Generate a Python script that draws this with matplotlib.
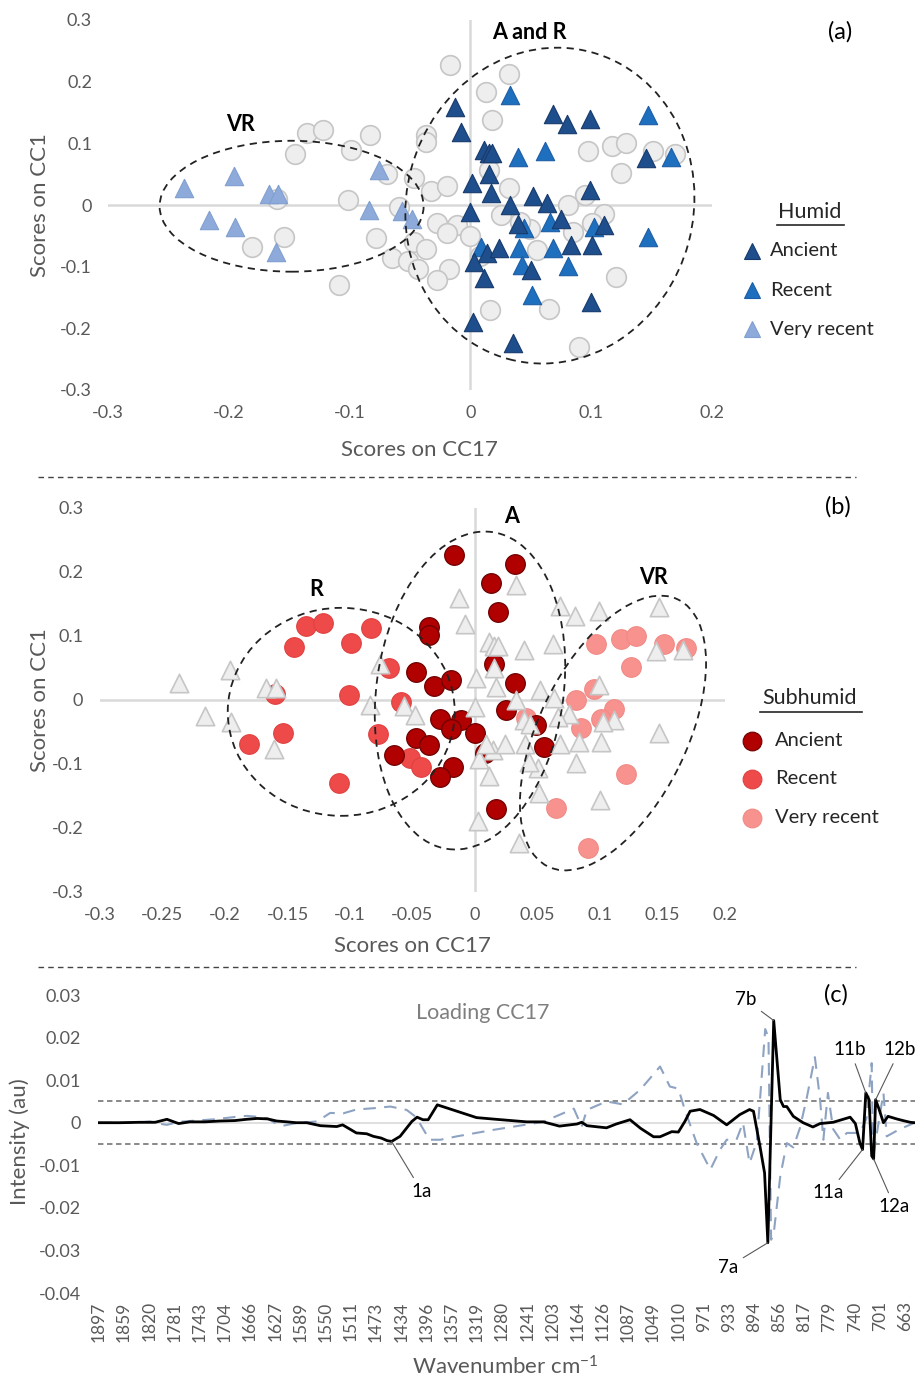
import matplotlib
matplotlib.use("Agg")
import matplotlib.pyplot as plt
from matplotlib.patches import Ellipse
from matplotlib.transforms import Affine2D
from matplotlib.lines import Line2D

plt.rcParams['font.family'] = ['Lato', 'DejaVu Sans']
plt.rcParams['axes.unicode_minus'] = False
plt.rcParams['mathtext.default'] = 'regular'

# ---- scores (CC17, CC1) ----
humid_anc_x = [-0.013, -0.008, 0.068, 0.080, 0.099, 0.011, 0.015, 0.018, 0.145, 0.015,
               0.001, 0.017, 0.099, 0.000, 0.033, 0.052, 0.063, 0.075, 0.039, 0.111,
               0.014, 0.024, 0.083, 0.101, 0.003, 0.050, 0.011, 0.100, 0.002, 0.035]
humid_anc_y = [0.159, 0.118, 0.147, 0.131, 0.139, 0.090, 0.084, 0.085, 0.077, 0.050,
               0.035, 0.020, 0.024, -0.011, 0.000, 0.015, 0.003, -0.022, -0.031, -0.032,
               -0.078, -0.069, -0.065, -0.065, -0.092, -0.106, -0.119, -0.157, -0.189, -0.223]
humid_rec_x = [0.033, 0.147, 0.039, 0.062, 0.166, 0.044, 0.066, 0.102, 0.009, 0.040,
               0.068, 0.147, 0.043, 0.081, 0.051]
humid_rec_y = [0.179, 0.146, 0.078, 0.088, 0.078, -0.038, -0.027, -0.035, -0.068, -0.069,
               -0.069, -0.052, -0.097, -0.099, -0.146]
humid_vr_x = [-0.237, -0.196, -0.167, -0.159, -0.216, -0.195, -0.161, -0.076, -0.084, -0.057, -0.048]
humid_vr_y = [0.027, 0.047, 0.018, 0.018, -0.025, -0.035, -0.076, 0.056, -0.008, -0.009, -0.023]

sub_anc_x = [-0.017, 0.032, 0.013, 0.018, -0.037, -0.037, -0.047, -0.033, -0.019, 0.015,
             0.032, 0.025, -0.028, -0.011, -0.019, 0.000, 0.049, 0.055, -0.047, -0.037,
             -0.065, -0.018, -0.028, 0.008, 0.0165]
sub_anc_y = [0.227, 0.2125, 0.183, 0.138, 0.114, 0.102, 0.044, 0.022, 0.031, 0.057,
             0.027, -0.016, -0.029, -0.032, -0.046, -0.051, -0.039, -0.073, -0.060, -0.071,
             -0.086, -0.104, -0.121, -0.083, -0.171]
sub_rec_x = [-0.135, -0.122, -0.145, -0.099, -0.083, -0.069, -0.160, -0.101, -0.059, -0.154,
             -0.181, -0.078, -0.109, -0.052, -0.043]
sub_rec_y = [0.116, 0.121, 0.083, 0.089, 0.113, 0.050, 0.010, 0.008, -0.003, -0.052,
             -0.068, -0.053, -0.129, -0.091, -0.104]
sub_vr_x = [0.097, 0.117, 0.129, 0.151, 0.169, 0.125, 0.095, 0.081, 0.111, 0.101,
            0.041, 0.085, 0.1205, 0.065, 0.090]
sub_vr_y = [0.0875, 0.096, 0.100, 0.087, 0.082, 0.052, 0.017, 0.000, -0.014, -0.029,
            -0.028, -0.044, -0.116, -0.168, -0.231]

score_ticks_a = [-0.3, -0.2, -0.1, 0, 0.1, 0.2]
score_ticks_b = [-0.3, -0.25, -0.2, -0.15, -0.1, -0.05, 0, 0.05, 0.1, 0.15, 0.2]
score_yticks = [-0.3, -0.2, -0.1, 0, 0.1, 0.2, 0.3]

# ---- loading CC17 ----
black_wn = [1897, 1865, 1834, 1811, 1793, 1775, 1758, 1735, 1712, 1689,
            1671, 1655, 1639, 1625, 1609, 1595, 1579, 1558, 1533, 1524,
            1503, 1487, 1477, 1465, 1456, 1449, 1436, 1418, 1410, 1401,
            1393, 1379, 1349, 1319, 1289, 1242, 1217, 1192, 1165, 1158,
            1150, 1120, 1105, 1084, 1068, 1048, 1038, 1020, 1010, 1000,
            992, 977, 956, 936, 916, 901, 895, 885, 878, 873,
            864, 854, 849, 844, 834, 819, 804, 793, 773, 747,
            739, 732, 728, 723, 718, 714, 711, 708, 703, 696,
            689, 676, 666, 655, 648]
black_val = [0.0000, 0.0000, 0.0001, 0.0001, 0.0008, -0.0002, 0.0002, 0.0002, 0.0004, 0.0005,
             0.0008, 0.0010, 0.0009, 0.0004, 0.0002, 0.0000, 0.0000, -0.0007, -0.0009, -0.0005,
             -0.0024, -0.0026, -0.0032, -0.0036, -0.0042, -0.0044, -0.0032, 0.0003, 0.0013, 0.0007,
             0.0007, 0.0042, 0.0027, 0.0012, 0.0008, 0.0002, 0.0002, -0.0008, -0.0003, 0.0001,
             -0.0007, -0.0012, -0.0003, 0.0007, -0.0013, -0.0033, -0.0033, -0.0021, -0.0022, 0.0003,
             0.0027, 0.0031, 0.0017, -0.0005, 0.0019, 0.0031, 0.0027, -0.0056, -0.0118, -0.0282,
             0.0240, 0.0054, 0.0038, 0.0038, 0.0015, 0.0000, -0.0010, -0.0002, 0.0001, 0.0013,
             -0.0002, -0.0048, -0.0063, 0.0070, 0.0054, -0.0078, -0.0085, 0.0054, 0.0033, 0.0000,
             0.0015, 0.0009, 0.0005, 0.0001, 0.0000]
dash_wn = [1897, 1839, 1819, 1806, 1793, 1775, 1758, 1720, 1686, 1671,
           1655, 1639, 1625, 1615, 1595, 1563, 1543, 1523, 1503, 1477,
           1451, 1426, 1413, 1406, 1391, 1374, 1349, 1294, 1217, 1170,
           1158, 1150, 1120, 1095, 1068, 1038, 1023, 1010, 1000, 982,
           961, 946, 936, 921, 911, 901, 890, 885, 877, 872,
           868, 864, 854, 844, 834, 824, 814, 801, 793, 788,
           781, 773, 762, 752, 732, 722, 714, 712, 706, 696,
           691, 671, 648]
dash_val = [0.0000, 0.0000, 0.0003, -0.0002, -0.0005, 0.0002, 0.0004, 0.0008, 0.0014, 0.0016,
            0.0014, 0.0010, -0.0003, -0.0007, -0.0001, 0.0003, 0.0023, 0.0022, 0.0031, 0.0034,
            0.0038, 0.0030, 0.0015, -0.0001, -0.0040, -0.0040, -0.0032, -0.0017, 0.0002, 0.0033,
            -0.0009, 0.0030, 0.0050, 0.0043, 0.0078, 0.0132, 0.0085, 0.0080, 0.0030, -0.0048,
            -0.0110, -0.0063, -0.0040, -0.0040, 0.0000, -0.0095, -0.0045, 0.0054, 0.0220, 0.0200,
            -0.0275, -0.0260, -0.0126, -0.0048, -0.0058, -0.0013, 0.0054, 0.0154, 0.0054, -0.0040,
            0.0070, -0.0015, -0.0040, -0.0024, -0.0024, 0.0010, 0.0140, -0.0085, -0.0024, 0.0070,
            -0.0032, -0.0015, 0.0000]
wn_ticks = [1897, 1859, 1820, 1781, 1743, 1704, 1666, 1627, 1589, 1550, 1511, 1473, 1434,
            1396, 1357, 1319, 1280, 1241, 1203, 1164, 1126, 1087, 1049, 1010, 971, 933,
            894, 856, 817, 779, 740, 701, 663]
load_yticks = [-0.04, -0.03, -0.02, -0.01, 0, 0.01, 0.02, 0.03]
peak_names = ['1a', '7b', '7a', '11b', '11a', '12b', '12a']
peak_wn = [1449, 864, 873, 723, 728, 708, 711]
peak_val = [-0.0044, 0.0240, -0.0282, 0.0070, -0.0063, 0.0054, -0.0085]
peak_label_wn = [1403, 907, 934, 747, 780, 671, 679]
peak_label_val = [-0.0161, 0.0289, -0.0339, 0.0171, -0.0165, 0.0171, -0.0197]

W, H = 915, 1381
GREY = '#595959'
fig = plt.figure(figsize=(W / 100, H / 100), dpi=100)


def box(l, t, r, b):
    return [l / W, 1 - b / H, (r - l) / W, (b - t) / H]


def fx(px):
    return px / W


def fy(py):
    return 1 - py / H


def ring(ax, kx, ky, cx, cy, w, h, ang):
    # w, h in screen pixels, turned into data units with the panel scale
    e = Ellipse((0, 0), w, h, angle=ang, fill=False, ec='#222222', lw=1.3, ls=(0, (4, 3)))
    e.set_transform(Affine2D().scale(1 / kx, 1 / ky).translate(cx, cy) + ax.transData)
    ax.add_patch(e)


def score_axes(ax, xt, xpad, ypad):
    ax.set_xlim(-0.3, 0.2)
    ax.set_ylim(-0.3, 0.3)
    for s in ax.spines.values():
        s.set_visible(False)
    ax.axhline(0, color='#d9d9d9', lw=1.8, zorder=0)
    ax.axvline(0, color='#d9d9d9', lw=1.8, zorder=0)
    ax.set_xticks(xt)
    ax.set_xticklabels([f'{v:g}' for v in xt])
    ax.set_yticks(score_yticks)
    ax.set_yticklabels([f'{v:g}' for v in score_yticks])
    ax.tick_params(axis='x', length=0, labelsize=13, labelcolor=GREY, pad=xpad)
    ax.tick_params(axis='y', length=0, labelsize=13, labelcolor=GREY, pad=ypad)
    ax.patch.set_alpha(0)


gray_kw = dict(facecolor='#eeeeee', edgecolors='#c6c6c6', linewidths=1.2)

# ---------- panel (a) ----------
ax1 = fig.add_axes(box(108, 20, 712, 390))
score_axes(ax1, score_ticks_a, 10.5, 11.5)
ax1.scatter(sub_anc_x + sub_rec_x + sub_vr_x, sub_anc_y + sub_rec_y + sub_vr_y,
            s=200, marker='o', **gray_kw)
ax1.scatter(humid_vr_x, humid_vr_y, s=175, marker='^', facecolor='#8eaadb', edgecolors='#7f9fd0', linewidths=0.8)
ax1.scatter(humid_rec_x, humid_rec_y, s=175, marker='^', facecolor='#1f6fbf', edgecolors='#1c5ea6', linewidths=0.8)
ax1.scatter(humid_anc_x, humid_anc_y, s=175, marker='^', facecolor='#1f4e8c', edgecolors='#163a6b', linewidths=0.8)
ring(ax1, 1208, 617, -0.148, -0.002, 264, 131, 0)
ring(ax1, 1208, 617, 0.0658, -0.001, 287, 318, -15)
ax1.text(-0.190, 0.131, 'VR', fontsize=15.5, fontweight='bold', ha='center', va='center')
ax1.text(0.0488, 0.279, 'A and R', fontsize=15.5, fontweight='bold', ha='center', va='center')

# ---------- panel (b) ----------
ax2 = fig.add_axes(box(100, 508, 725, 892))
score_axes(ax2, score_ticks_b, 11, 12)
ax2.scatter(sub_vr_x, sub_vr_y, s=200, marker='o', facecolor='#f7928f', edgecolors='#f08a86', linewidths=0.8)
ax2.scatter(sub_rec_x, sub_rec_y, s=200, marker='o', facecolor='#ee4a4a', edgecolors='#e04040', linewidths=0.8)
ax2.scatter(sub_anc_x, sub_anc_y, s=200, marker='o', facecolor='#b00000', edgecolors='#6e0000', linewidths=0.9)
ax2.scatter(humid_anc_x + humid_rec_x + humid_vr_x, humid_anc_y + humid_rec_y + humid_vr_y,
            s=175, marker='^', **gray_kw)
ring(ax2, 1250, 640, -0.107, -0.0185, 227, 208, 0)
ring(ax2, 1250, 640, -0.004, 0.0148, 187, 320, -8)
ring(ax2, 1250, 640, 0.1104, -0.0516, 297, 148, 64)
ax2.text(-0.127, 0.173, 'R', fontsize=15.5, fontweight='bold', ha='center', va='center')
ax2.text(0.0296, 0.286, 'A', fontsize=15.5, fontweight='bold', ha='center', va='center')
ax2.text(0.143, 0.192, 'VR', fontsize=15.5, fontweight='bold', ha='center', va='center')

# ---------- panel (c) ----------
ax3 = fig.add_axes(box(98, 995, 915, 1293))
ax3.set_xlim(1898.5, 647.7)
ax3.set_ylim(-0.04, 0.03)
for s in ax3.spines.values():
    s.set_visible(False)
ax3.axhline(0, color='#d9d9d9', lw=1.2, zorder=0)
ax3.axhline(0.005, color='#7f7f7f', lw=1.3, ls=(0, (3, 2)), zorder=1)
ax3.axhline(-0.005, color='#7f7f7f', lw=1.3, ls=(0, (3, 2)), zorder=1)
ax3.plot(dash_wn, dash_val, color='#8ea3c2', lw=1.5, ls=(0, (6, 4)), zorder=2)
ax3.plot(black_wn, black_val, color='black', lw=2.0, zorder=3)
ax3.set_xticks(wn_ticks)
ax3.set_xticklabels([str(v) for v in wn_ticks], rotation=90)
ax3.set_yticks(load_yticks)
ax3.set_yticklabels([f'{v:g}' for v in load_yticks])
ax3.tick_params(axis='x', length=0, labelsize=12.5, labelcolor=GREY, pad=6)
ax3.tick_params(axis='y', length=0, labelsize=13, labelcolor=GREY, pad=12)
ax3.patch.set_alpha(0)
for name, xw, yv, lx, ly in zip(peak_names, peak_wn, peak_val, peak_label_wn, peak_label_val):
    ax3.annotate(name, xy=(xw, yv), xytext=(lx, ly), fontsize=13.5, ha='center', va='center',
                 annotation_clip=False,
                 arrowprops=dict(arrowstyle='-', color='#595959', lw=0.8, shrinkA=2, shrinkB=0))
fig.text(fx(483), fy(1013), 'Loading CC17', fontsize=15.5, color='#7f7f7f', ha='center', va='center')

# ---------- axis titles, panel letters, separators ----------
fig.text(fx(419), fy(450), 'Scores on CC17', fontsize=16, color=GREY, ha='center', va='center')
fig.text(fx(40), fy(205), 'Scores on CC1', fontsize=16, color=GREY, ha='center', va='center', rotation=90)
fig.text(fx(412), fy(946), 'Scores on CC17', fontsize=16, color=GREY, ha='center', va='center')
fig.text(fx(40), fy(700), 'Scores on CC1', fontsize=16, color=GREY, ha='center', va='center', rotation=90)
fig.text(fx(20), fy(1142), 'Intensity (au)', fontsize=16, color=GREY, ha='center', va='center', rotation=90)
fig.text(fx(505), fy(1367), 'Wavenumber cm$^{-1}$', fontsize=16, color=GREY, ha='center', va='center')
fig.text(fx(840), fy(32), '(a)', fontsize=17, ha='center', va='center')
fig.text(fx(838), fy(507), '(b)', fontsize=17, ha='center', va='center')
fig.text(fx(836), fy(995), '(c)', fontsize=17, ha='center', va='center')
for py in (477, 967):
    fig.add_artist(Line2D([fx(38), fx(856)], [fy(py), fy(py)], color='#444444', lw=1, ls=(0, (4, 3))))

# ---------- legends ----------
def legend_block(title, tcx, tcy, ux0, ux1, uy, rows, mx, tx, marker, ms):
    fig.text(fx(tcx), fy(tcy), title, fontsize=15.5, color='#262626', ha='center', va='center')
    fig.add_artist(Line2D([fx(ux0), fx(ux1)], [fy(uy), fy(uy)], color='#262626', lw=1.2))
    for label, fc, ec, py in rows:
        fig.add_artist(Line2D([fx(mx)], [fy(py)], marker=marker, ms=ms, mfc=fc, mec=ec, mew=0.8, ls='none'))
        fig.text(fx(tx), fy(py), label, fontsize=14.5, color='#262626', ha='left', va='center')


legend_block('Humid', 810, 212, 777, 844, 225,
             [('Ancient', '#1f4e8c', '#163a6b', 251), ('Recent', '#1f6fbf', '#1c5ea6', 290),
              ('Very recent', '#8eaadb', '#7f9fd0', 329)], 752, 770, '^', 12)
legend_block('Subhumid', 810, 698, 760, 862, 712,
             [('Ancient', '#b00000', '#6e0000', 741), ('Recent', '#ee4a4a', '#e04040', 779),
              ('Very recent', '#f7928f', '#f08a86', 818)], 752, 775, 'o', 13.5)

fig.savefig('out.png', dpi=100)
